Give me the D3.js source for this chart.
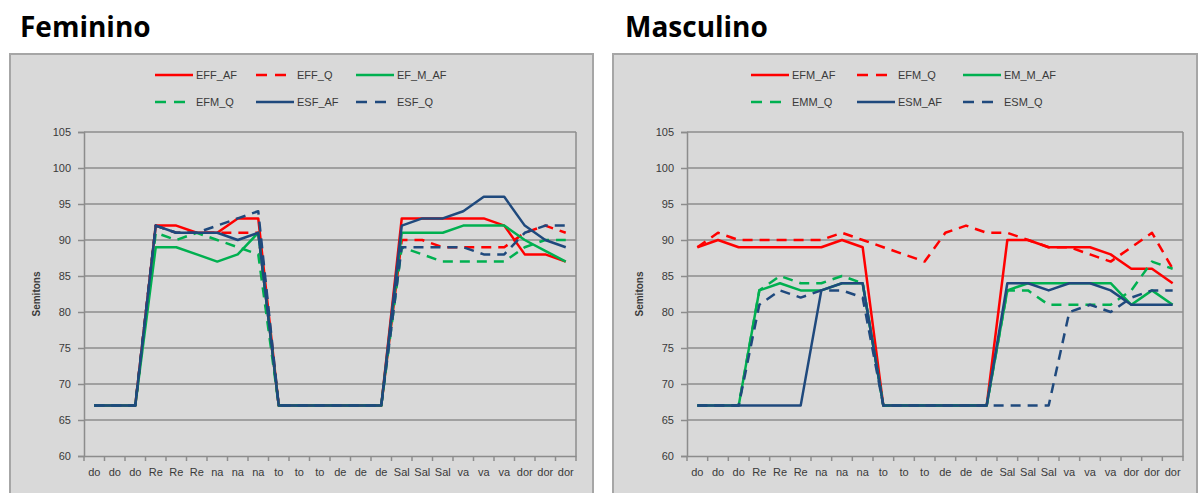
<!DOCTYPE html>
<html>
<head>
<meta charset="utf-8">
<script src="https://cdn.jsdelivr.net/npm/d3@7"></script>
<style>
  body { margin: 0; background: #fff; }
  svg { display: block; }
  .tick text { font-family: "Liberation Sans", Arial, sans-serif; fill: #3a3a3a; }
</style>
</head>
<body>
<svg id="chart" width="1199" height="493"></svg>
<script>
// categories on the x axis (syllables)
const categories = ["do","do","do","Re","Re","Re","na","na","na","to","to","to",
                    "de","de","de","Sal","Sal","Sal","va","va","va","dor","dor","dor"];
const yTicks = [60, 65, 70, 75, 80, 85, 90, 95, 100, 105];

// Feminino series
const femNames = ["EFF_AF", "EFF_Q", "EF_M_AF", "EFM_Q", "ESF_AF", "ESF_Q"];
const effAF  = [67,67,67,92,92,91,91,93,93,67,67,67,67,67,67,93,93,93,93,93,92,88,88,87];
const effQ   = [67,67,67,92,91,91,91,91,91,67,67,67,67,67,67,90,90,89,89,89,89,91,92,91];
const efmAF  = [67,67,67,89,89,88,87,88,91,67,67,67,67,67,67,91,91,91,92,92,92,90,88.5,87];
const efmQ   = [67,67,67,91,90,91,90,89,88,67,67,67,67,67,67,89,88,87,87,87,87,89,90,90];
const esfAF  = [67,67,67,92,91,91,91,90,91,67,67,67,67,67,67,92,93,93,94,96,96,92,90,89];
const esfQ   = [67,67,67,92,91,91,92,93,94,67,67,67,67,67,67,89,89,89,89,88,88,91,92,92];

// Masculino series
const mascNames = ["EFM_AF", "EFM_Q", "EM_M_AF", "EMM_Q", "ESM_AF", "ESM_Q"];
const efmAFm = [89,90,89,89,89,89,89,90,89,67,67,67,67,67,67,90,90,89,89,89,88,86,86,84];
const efmQm  = [89,91,90,90,90,90,90,91,90,89,88,87,91,92,91,91,90,89,89,88,87,89,91,86];
const emmAF  = [67,67,67,83,84,83,83,84,84,67,67,67,67,67,67,83,84,84,84,84,84,81,83,81];
const emmQ   = [67,67,67,83,85,84,84,85,84,67,67,67,67,67,67,83,83,81,81,81,81,83,87,86];
const esmAF  = [67,67,67,67,67,67,83,84,84,67,67,67,67,67,67,84,84,83,84,84,83,81,81,81];
const esmQ   = [67,67,67,81,83,82,83,83,82,67,67,67,67,67,67,67,67,67,80,81,80,82,83,83];

const seriesColors = ["#ff0000", "#ff0000", "#00b050", "#00b050", "#1f497d", "#1f497d"];
const seriesDashed = [false, true, false, true, false, true];

const svg = d3.select("#chart");
const font = "'Liberation Sans', Arial, sans-serif";

function drawPanel(cfg) {
    const g = svg.append("g");

    // title above the box
    g.append("text")
        .attr("x", cfg.titleX).attr("y", 37)
        .style("font-family", "'Open Sans', sans-serif")
        .style("font-weight", "bold")
        .style("font-size", "28px")
        .style("fill", "#000")
        .text(cfg.title);

    // chart box
    g.append("rect")
        .attr("x", cfg.boxX).attr("y", 54)
        .attr("width", cfg.boxW).attr("height", 460)
        .style("fill", "#d9d9d9")
        .style("stroke", "#a6a6a6")
        .style("stroke-width", 2);

    const x = d3.scaleBand().domain(d3.range(categories.length)).range([cfg.left, cfg.right]);
    const y = d3.scaleLinear().domain([60, 105]).range([456, 132]);

    // gridlines
    g.append("g").selectAll("line")
        .data(yTicks.slice(1))
        .enter().append("line")
        .attr("x1", cfg.left).attr("x2", cfg.right)
        .attr("y1", d => y(d)).attr("y2", d => y(d))
        .style("stroke", "#8c8c8c").style("stroke-width", 1.5);

    // right border of plot area
    g.append("line")
        .attr("x1", cfg.right).attr("x2", cfg.right)
        .attr("y1", y(105)).attr("y2", y(60))
        .style("stroke", "#8c8c8c").style("stroke-width", 1.5);

    // y axis
    const yAxis = g.append("g")
        .attr("transform", "translate(" + cfg.left + ",0)")
        .call(d3.axisLeft(y).tickValues(yTicks).tickSize(6).tickPadding(7));
    yAxis.selectAll("line, path").style("stroke", "#8c8c8c").style("stroke-width", 1.5);
    yAxis.selectAll("text").style("font-size", "11px");

    // x axis: ticks between categories
    const xAxis = g.append("g")
        .attr("transform", "translate(0," + y(60) + ")")
        .call(d3.axisBottom(x).tickFormat(i => categories[i]).tickSize(0).tickPadding(12));
    xAxis.select("path").style("stroke", "#8c8c8c").style("stroke-width", 1.5);
    xAxis.selectAll("text").style("font-size", "11px");
    g.append("g").selectAll("line")
        .data(d3.range(categories.length + 1))
        .enter().append("line")
        .attr("x1", i => cfg.left + i * x.step()).attr("x2", i => cfg.left + i * x.step())
        .attr("y1", y(60)).attr("y2", y(60) + 5)
        .style("stroke", "#8c8c8c").style("stroke-width", 1.5);

    // axis title
    g.append("text")
        .attr("transform", "translate(" + (cfg.titleAxisX) + ",294) rotate(-90)")
        .style("text-anchor", "middle")
        .style("font-family", font)
        .style("font-weight", "bold")
        .style("font-size", "10px")
        .style("fill", "#3a3a3a")
        .text("Semitons");

    // lines
    const line = d3.line()
        .x((d, i) => x(i) + x.bandwidth() / 2)
        .y(d => y(d));

    cfg.series.forEach((vals, k) => {
        g.append("path")
            .datum(vals)
            .attr("d", line)
            .style("fill", "none")
            .style("stroke", seriesColors[k])
            .style("stroke-width", 2.5)
            .style("stroke-linejoin", "round")
            .style("stroke-dasharray", seriesDashed[k] ? "10,7" : null);
    });

    // legend
    const legend = g.append("g").selectAll(".legend")
        .data(cfg.names)
        .enter().append("g")
        .attr("class", "legend")
        .attr("transform", (d, i) => "translate(" + cfg.legendX[i % 3] + "," + (i < 3 ? 75 : 102) + ")");

    legend.append("line")
        .attr("x1", 0).attr("x2", 38)
        .style("stroke", (d, i) => seriesColors[i])
        .style("stroke-width", 2.5)
        .style("stroke-dasharray", (d, i) => seriesDashed[i] ? "11,8" : null);

    legend.append("text")
        .attr("x", 41).attr("y", 4)
        .style("font-family", font)
        .style("font-size", "11px")
        .style("fill", "#3a3a3a")
        .text(d => d);
}

drawPanel({
    title: "Feminino", titleX: 20, boxX: 10, boxW: 583,
    left: 84, right: 576, titleAxisX: 40,
    legendX: [155, 256, 356],
    names: femNames,
    series: [effAF, effQ, efmAF, efmQ, esfAF, esfQ]
});

drawPanel({
    title: "Masculino", titleX: 625, boxX: 613, boxW: 584,
    left: 687, right: 1183, titleAxisX: 643,
    legendX: [751, 857, 963],
    names: mascNames,
    series: [efmAFm, efmQm, emmAF, emmQ, esmAF, esmQ]
});
</script>
</body>
</html>
